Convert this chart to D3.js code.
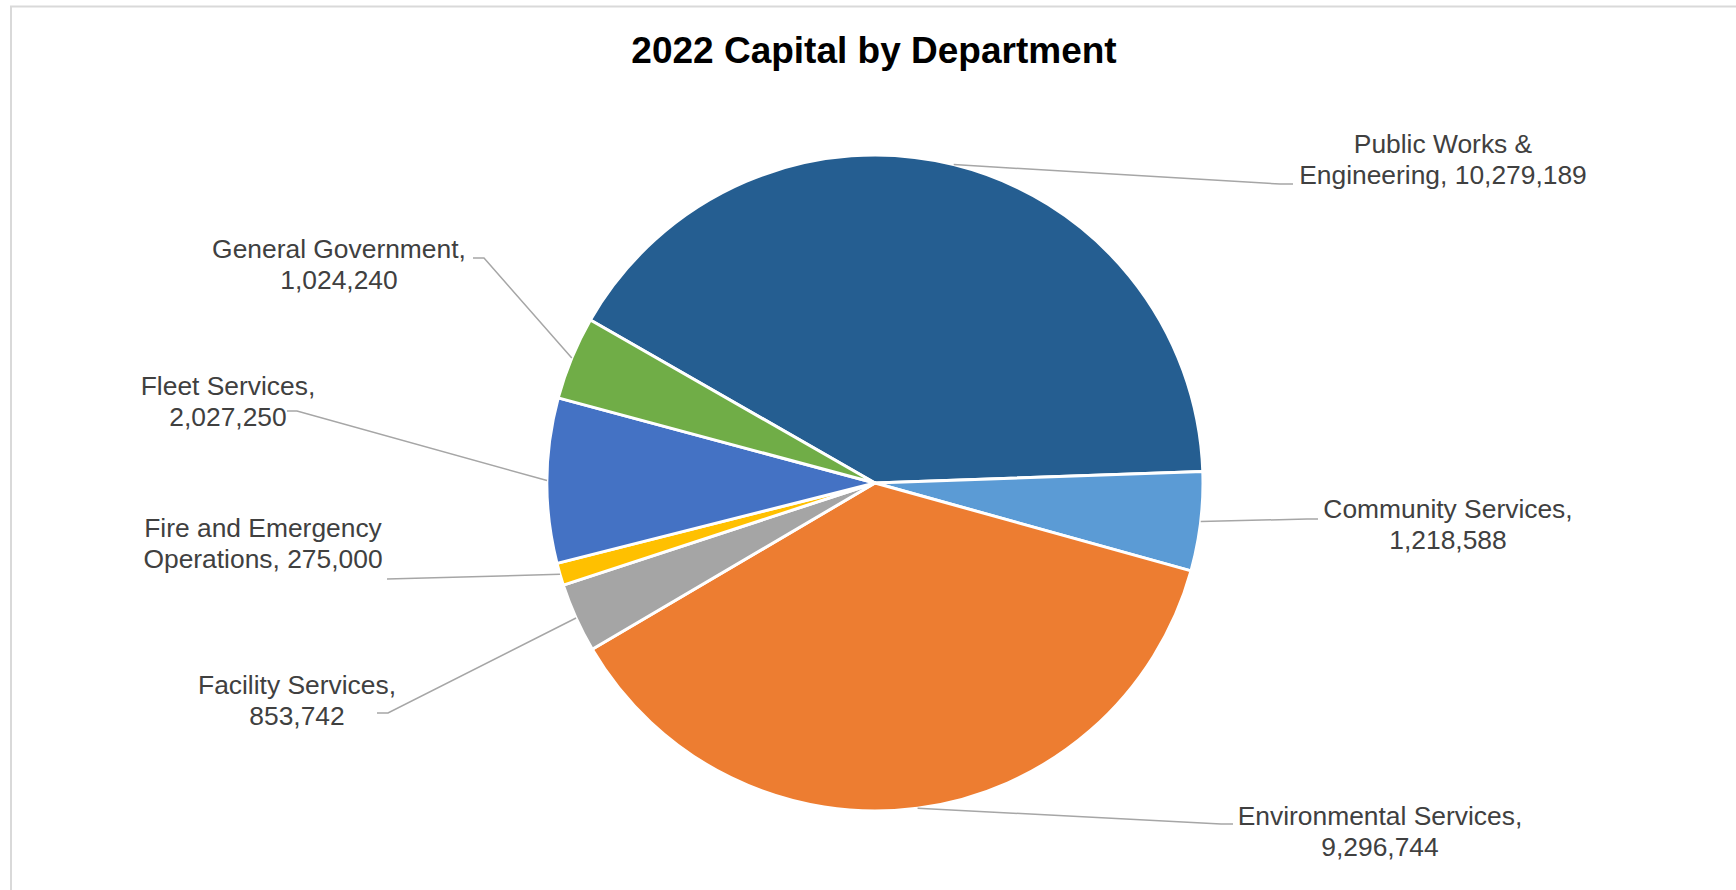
<!DOCTYPE html>
<html>
<head>
<meta charset="utf-8">
<script src="https://cdn.jsdelivr.net/npm/d3@7"></script>
<style>
  html, body { margin: 0; padding: 0; background: #fff; }
  svg { display: block; }
</style>
</head>
<body>
<svg id="chart" width="1736" height="890"></svg>
<script>
// Departments and their 2022 capital amounts, in drawing order (clockwise).
const departments = [
  "Public Works & Engineering",
  "Community Services",
  "Environmental Services",
  "Facility Services",
  "Fire and Emergency Operations",
  "Fleet Services",
  "General Government"
];
const capital = [10279189, 1218588, 9296744, 853742, 275000, 2027250, 1024240];
const sliceColors = ["#255E91", "#5B9BD5", "#ED7D31", "#A5A5A5", "#FFC000", "#4472C4", "#70AD47"];

const title = "2022 Capital by Department";

// Label placement: text centre, first baseline, number of words on the first line,
// and where the leader line meets the label (with a short horizontal elbow).
const labelLayout = {
  "Public Works & Engineering":    { x: 1443, y: 153, words: 3, end: [1293, 184], elbow: [1280, 184] },
  "Community Services":            { x: 1448, y: 518, words: 2, end: [1318, 519], elbow: [1307, 519] },
  "Environmental Services":        { x: 1380, y: 825, words: 2, end: [1233, 824], elbow: [1221, 824] },
  "Facility Services":             { x: 297,  y: 694, words: 2, end: [377, 713],  elbow: [388, 713] },
  "Fire and Emergency Operations": { x: 263,  y: 537, words: 3, end: [387, 579],  elbow: [387, 579] },
  "Fleet Services":                { x: 228,  y: 395, words: 2, end: [287, 411],  elbow: [297, 411] },
  "General Government":            { x: 339,  y: 258, words: 2, end: [473, 258],  elbow: [484, 258] }
};

const W = 1736, H = 890;
const cx = 875, cy = 483, radius = 328;
const lineHeight = 30.5;
const fmt = d3.format(",");

const svg = d3.select("#chart");

// Chart-area frame (top and left edges)
svg.append("path")
  .attr("d", `M11,${H} L11,6.5 L${W},6.5`)
  .attr("fill", "none")
  .attr("stroke", "#D9D9D9")
  .attr("stroke-width", 2);

// Title
svg.append("text")
  .attr("x", cx - 1)
  .attr("y", 63)
  .attr("text-anchor", "middle")
  .attr("font-family", "'Liberation Sans', Arial, sans-serif")
  .attr("font-weight", "bold")
  .attr("font-size", 37)
  .attr("fill", "#000")
  .text(title);

const data = departments.map((name, i) => ({ name, value: capital[i], color: sliceColors[i] }));

const start = -60.2 * Math.PI / 180;
const pie = d3.pie()
  .sort(null)
  .value(d => d.value)
  .startAngle(start)
  .endAngle(start + 2 * Math.PI);

const arcs = pie(data);
const arc = d3.arc().innerRadius(0).outerRadius(radius);

const g = svg.append("g").attr("transform", `translate(${cx},${cy})`);

g.selectAll("path.slice")
  .data(arcs)
  .join("path")
  .attr("class", "slice")
  .attr("d", arc)
  .attr("fill", d => d.data.color)
  .attr("stroke", "#fff")
  .attr("stroke-width", 3)
  .attr("stroke-linejoin", "round");

// Leader lines: from the slice's outer edge at its mid-angle to the label
const leaders = svg.append("g");
arcs.forEach(a => {
  const L = labelLayout[a.data.name];
  const mid = (a.startAngle + a.endAngle) / 2;
  const p0 = [cx + radius * Math.sin(mid), cy - radius * Math.cos(mid)];
  leaders.append("polyline")
    .attr("points", [p0, L.elbow, L.end].map(p => p.join(",")).join(" "))
    .attr("fill", "none")
    .attr("stroke", "#A6A6A6")
    .attr("stroke-width", 1.5);
});

// Data labels: "Name, value" split across two lines
const labels = svg.append("g")
  .attr("font-family", "'Liberation Sans', Arial, sans-serif")
  .attr("font-size", 26.4)
  .attr("fill", "#404040")
  .attr("text-anchor", "middle");

arcs.forEach(a => {
  const L = labelLayout[a.data.name];
  const words = `${a.data.name}, ${fmt(a.data.value)}`.split(" ");
  const lines = [words.slice(0, L.words).join(" "), words.slice(L.words).join(" ")];
  const t = labels.append("text").attr("x", L.x).attr("y", L.y);
  lines.forEach((ln, i) => {
    t.append("tspan").attr("x", L.x).attr("y", L.y + i * lineHeight).text(ln);
  });
});
</script>
</body>
</html>
